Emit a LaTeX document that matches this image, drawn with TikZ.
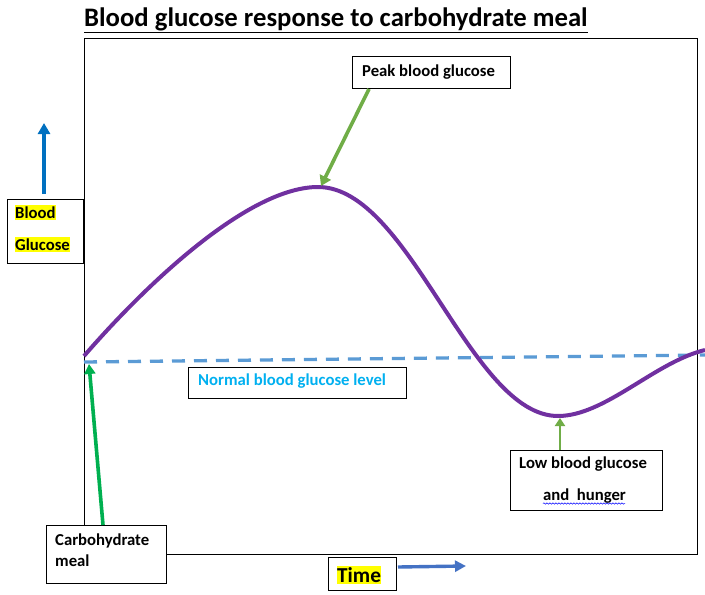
\documentclass[tikz,border=0pt]{standalone}
\usepackage{fontspec}
\setmainfont{Carlito}
\usetikzlibrary{arrows.meta,decorations.pathmorphing}
\definecolor{curvecol}{HTML}{7030A0}
\definecolor{dashcol}{HTML}{5B9BD5}
\definecolor{leafgreen}{HTML}{70AD47}
\definecolor{brightgreen}{HTML}{00B050}
\definecolor{upblue}{HTML}{0070C0}
\definecolor{rightblue}{HTML}{4472C4}
\definecolor{cyantext}{HTML}{00B0F0}
\definecolor{hl}{HTML}{FFFF00}
\tikzset{
  lbl/.style={font=\bfseries\fontsize{16.7}{19}\selectfont, anchor=base west, inner sep=0pt},
  hilite/.style={fill=hl, inner xsep=0pt, inner ysep=1.5pt},
  boxst/.style={draw=black, line width=0.8pt, fill=white, inner sep=0pt, anchor=north west},
  greenarrow/.style={draw=leafgreen, line width=3.6pt, -{Triangle[length=10pt,width=12pt]}},
}
\begin{document}
\begin{tikzpicture}[x=1pt,y=-1pt]
\useasboundingbox (0,0) rectangle (705,595);
% title
\node[anchor=base west, inner sep=0pt, font=\bfseries\fontsize{26.7}{30}\selectfont] (title) at (84,26) {\underline{Blood glucose response to carbohydrate meal}};
% plot frame
\draw[line width=0.8pt] (84,38) rectangle (697,554);
% dashed normal line
\coordinate (dashA) at (84,362);
\coordinate (dashB) at (705,355);
\draw[dashcol, line width=3.3pt, dash pattern=on 13pt off 9pt] (dashA) -- (dashB);
% curve
\coordinate (start) at (84,356);
\coordinate (peak) at (318,187);
\coordinate (trough) at (558,416);
\coordinate (curveEnd) at (705,350);
\draw[curvecol, line width=4pt] (start) .. controls (150,280) and (250,187) .. (peak)
  .. controls (410,187) and (470,416) .. (trough)
  .. controls (605,416) and (655,362) .. (curveEnd);
% Blood glucose box
\node[boxst, minimum width=76pt, minimum height=64pt] (bgbox) at (7,199) {};
\node[lbl, hilite] (bg1) at (15,218) {Blood};
\node[lbl, hilite] (bg2) at (15,250) {Glucose};
\coordinate (upA) at (44,194);
\coordinate (upB) at (44,123);
\draw[upblue, line width=3.6pt, -{Triangle[length=11pt,width=12pt]}] (upA) -- (upB);
% peak box
\node[boxst, minimum width=158pt, minimum height=32pt] (peakbox) at (352,56) {};
\node[lbl] (peaktxt) at (362,76) {Peak blood glucose};
\coordinate (peakArrStart) at (369,89);
\coordinate (peakArrEnd) at (321,186);
\draw[greenarrow] (peakArrStart) -- (peakArrEnd);
% normal box
\node[boxst, minimum width=218pt, minimum height=31pt] (normbox) at (188,367) {};
\node[lbl, text=cyantext] (normtxt) at (198,385) {Normal blood glucose level};
% carbohydrate box
\node[boxst, minimum width=120pt, minimum height=58pt] (carbbox) at (46,525) {};
\node[lbl] (carb1) at (55,545) {Carbohydrate};
\node[lbl] (carb2) at (55,566) {meal};
\coordinate (carbArrStart) at (103,525);
\coordinate (carbArrEnd) at (89,364);
\draw[brightgreen, line width=3.6pt, -{Triangle[length=10pt,width=11pt]}] (carbArrStart) -- (carbArrEnd);
% time box
\node[boxst, minimum width=68pt, minimum height=33pt] (timebox) at (328,557) {};
\node[anchor=base west, fill=hl, inner xsep=0pt, inner ysep=1.5pt, font=\bfseries\fontsize{21.3}{24}\selectfont] (timetxt) at (337,582) {Time};
\coordinate (timeArrStart) at (398,567);
\coordinate (timeArrEnd) at (466,566);
\draw[rightblue, line width=3.4pt, -{Triangle[length=11pt,width=11pt]}] (timeArrStart) -- (timeArrEnd);
% low box
\node[boxst, minimum width=152pt, minimum height=60pt] (lowbox) at (510,450) {};
\node[lbl] (low1) at (519,468) {Low blood glucose};
\node[lbl] (low2) at (543,500) {and\ \ hunger};
\coordinate (wavA) at (543,503.5);
\coordinate (wavB) at (625,503.5);
\draw[blue, line width=0.5pt, decorate, decoration={snake, amplitude=0.7pt, segment length=3pt}] (wavA) -- (wavB);
\coordinate (lowArrStart) at (560,450);
\coordinate (lowArrEnd) at (560,418);
\draw[leafgreen, line width=2.8pt, -{Triangle[length=8pt,width=10pt]}] (lowArrStart) -- (lowArrEnd);
\end{tikzpicture}
\end{document}
